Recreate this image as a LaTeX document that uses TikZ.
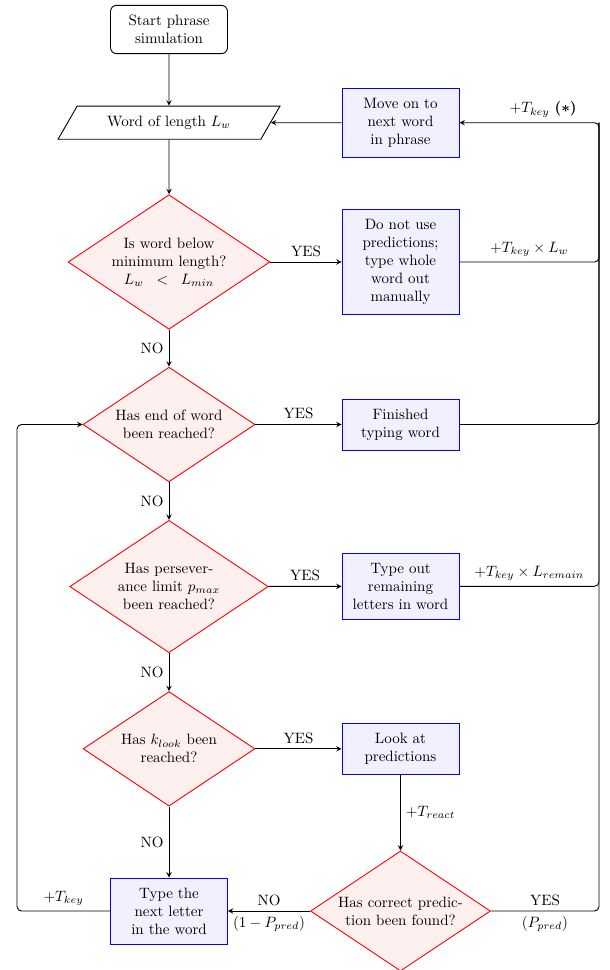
\documentclass[tikz,border=0pt]{standalone}
\usetikzlibrary{shapes.geometric}
\begin{document}
\begin{tikzpicture}[x=0.667pt, y=-0.667pt, >=stealth,
	startstop/.style={draw, semithick, rounded corners=4pt, text width=65pt, align=center, inner sep=6.5pt},
	io/.style={draw, semithick, trapezium, trapezium left angle=60, trapezium right angle=120, inner xsep=20pt, inner ysep=6.5pt},
	process/.style={draw=blue, semithick, fill=blue!6, text width=65pt, align=center, inner sep=6.5pt},
	decision/.style={draw=red, semithick, fill=red!6, diamond, aspect=1.5, text width=81pt, align=center, inner sep=1pt},
	arrow/.style={->, semithick},
	line/.style={semithick, rounded corners=3pt}]
	\useasboundingbox (0,0) rectangle (610,970);
	
	\node[startstop] (start) at (169,29.5) {Start phrase\\ simulation};
	\node[io] (word) at (169,122.7) {Word of length $L_w$};
	\node[process] (moveon) at (400.5,122.7) {Move on to\\ next word\\ in phrase};
	
	\node[decision] (minlen) at (169,262) {Is word below\\ minimum length?\\ $L_w\;<\;L_{min}$};
	\node[process] (nouse) at (400.5,262) {Do not use\\ predictions;\\ type whole\\ word out\\ manually};
	
	\node[decision] (endword) at (169,424.5) {Has end of word\\ been reached?};
	\node[process] (finished) at (400.5,424.5) {Finished\\ typing word};
	
	\node[decision] (persev) at (169,586.5) {Has persever-\\ ance limit $p_{max}$\\ been reached?};
	\node[process] (typeout) at (400.5,586.3) {Type out\\ remaining\\ letters in word};
	
	\node[decision] (klook) at (169,748.8) {Has $k_{look}$ been\\ reached?};
	\node[process] (look) at (400.5,748.8) {Look at\\ predictions};
	
	\node[decision, text width=86.5pt] (correct) at (400.5,911) {Has correct predic-\\ tion been found?};
	\node[process] (typenext) at (169,911) {Type the\\ next letter\\ in the word};
	
	\coordinate (railtop) at (599,122.7);
	\coordinate (railleft) at (17,424.5);
	
	\draw[arrow] (start) -- (word);
	\draw[arrow] (word) -- (minlen);
	\draw[arrow] (moveon) -- (word);
	\draw[arrow] (minlen) -- node[above] {YES} (nouse);
	\draw[arrow] (minlen) -- node[left] {NO} (endword);
	\draw[arrow] (endword) -- node[above] {YES} (finished);
	\draw[arrow] (endword) -- node[left] {NO} (persev);
	\draw[arrow] (persev) -- node[above] {YES} (typeout);
	\draw[arrow] (persev) -- node[left] {NO} (klook);
	\draw[arrow] (klook) -- node[above] {YES} (look);
	\draw[arrow] (klook) -- node[left] {NO} (typenext);
	\draw[arrow] (look) -- node[right] {$+T_{react}$} (correct);
	\draw[arrow] (correct) -- node[above] {NO} node[below] {$(1-P_{pred})$} (typenext);
	
	% back to the next word
	\draw[line] (nouse.east) -| node[pos=0.25, above] {$+T_{key}\times L_w$} (railtop);
	\draw[line] (finished.east) -| (railtop);
	\draw[line] (typeout.east) -| node[pos=0.25, above] {$+T_{key}\times L_{remain}$} (railtop);
	\draw[line, ->] (correct.east) -| node[pos=0.25, above] {YES} node[pos=0.25, below] {$(P_{pred})$} (railtop) -- node[pos=0.4, above] {$+T_{key}$ {\boldmath$(*)$}} (moveon.east);
	
	% next letter
	\draw[line, ->] (typenext.west) -| node[pos=0.25, above] {$+T_{key}$} (railleft) -- (endword.west);
\end{tikzpicture}
\end{document}
